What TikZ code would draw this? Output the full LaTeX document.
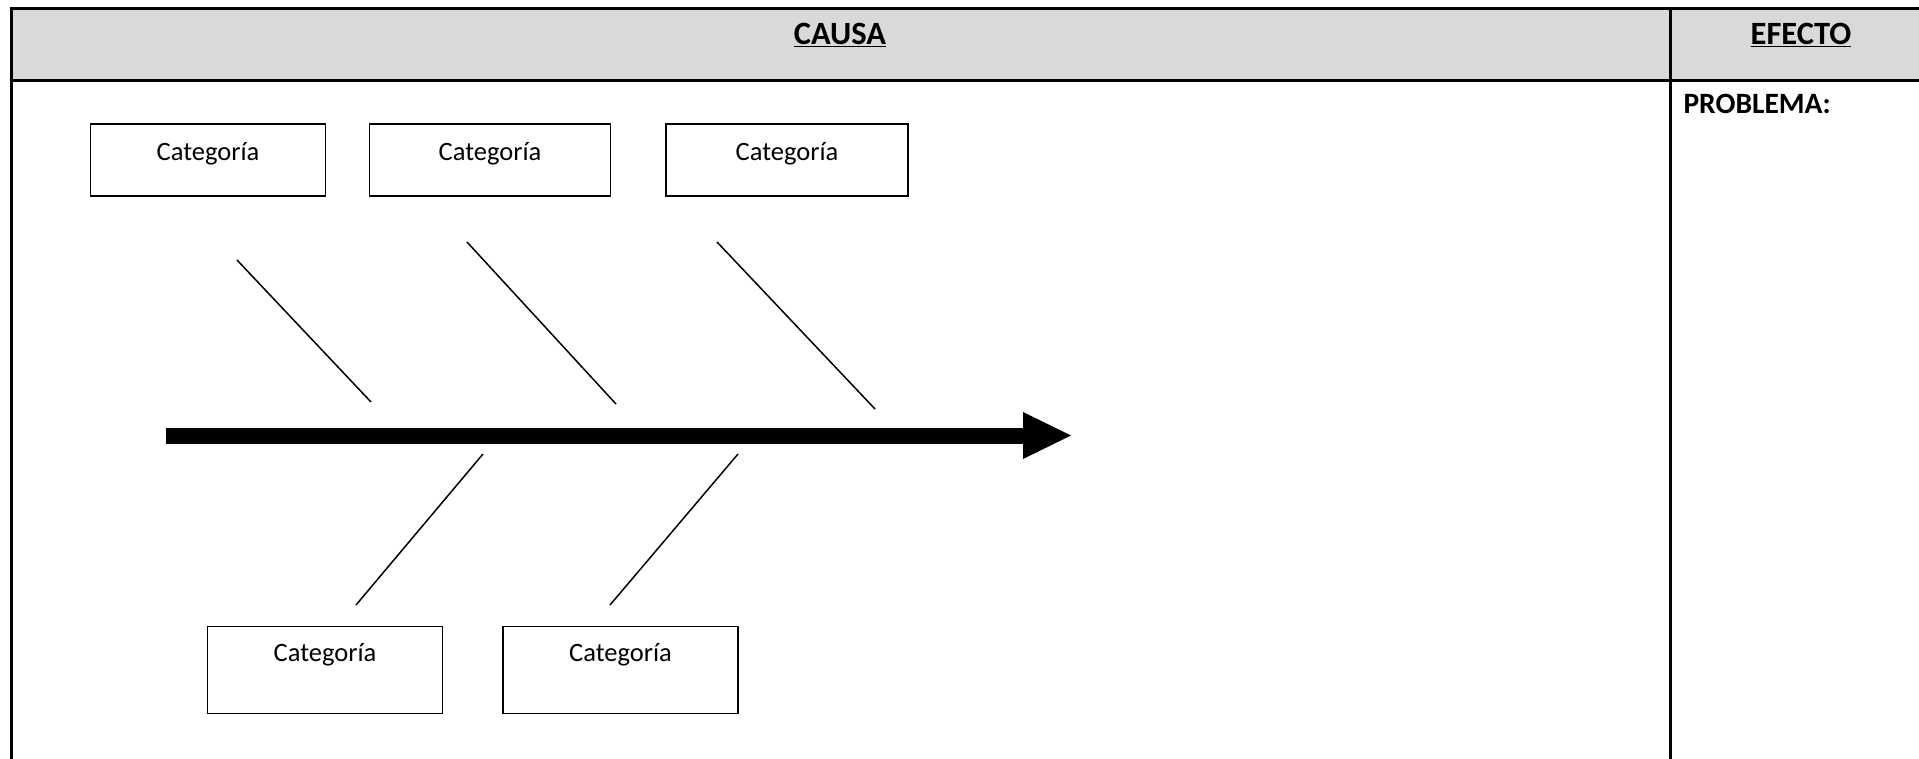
\documentclass[tikz,border=0pt]{standalone}
\usepackage{fontspec}
\setmainfont{Carlito}
\begin{document}
\begin{tikzpicture}[x=1pt,y=-1pt,
  cat/.style={draw=black,line width=1.6pt,minimum width=235pt,minimum height=72pt,inner sep=0pt},
  cattext/.style={font=\fontsize{26.5}{30}\selectfont},
  bone/.style={line width=1.5pt},
  frame/.style={line width=3pt},
  head/.style={font=\bfseries\fontsize{32.5}{36}\selectfont}]
\useasboundingbox (0,0) rectangle (1919,759);
% table
\fill[fill={rgb,255:red,217;green,217;blue,217}] (11,9) rectangle (1925,81);
\draw[frame] (1925,9) -- (11,9) -- (11,762);
\draw[frame] (11,81) -- (1925,81);
\draw[frame] (1670,9) -- (1670,762);
\node[head] (causa) at (840,35) {\underline{CAUSA}};
\node[head] (efecto) at (1801,35) {\underline{EFECTO}};
\node[head,anchor=west,font=\bfseries\fontsize{29.5}{32}\selectfont] (prob) at (1680,104) {PROBLEMA:};
% category boxes
\node[cat] (c1) at (208,160) {};
\node[cat,minimum width=241pt] (c2) at (490,160) {};
\node[cat,minimum width=242pt] (c3) at (787,160) {};
\node[cat,minimum height=87pt] (c4) at (325,670) {};
\node[cat,minimum height=87pt] (c5) at (620.5,670) {};
\node[cattext] (t1) at (208,154) {Categoría};
\node[cattext] (t2) at (490,154) {Categoría};
\node[cattext] (t3) at (787,154) {Categoría};
\node[cattext] (t4) at (325,655) {Categoría};
\node[cattext] (t5) at (620.5,655) {Categoría};
% spine
\coordinate (sp0) at (166,435.5);
\coordinate (sp1) at (1024,435.5);
\coordinate (tip) at (1071,435.5);
\draw[line width=16pt] (sp0) -- (sp1);
\fill (1023,412) -- (tip) -- (1023,459) -- cycle;
% bones
\coordinate (a1) at (237,260); \coordinate (b1) at (371,402);
\coordinate (a2) at (467,242); \coordinate (b2) at (616,404);
\coordinate (a3) at (717,242); \coordinate (b3) at (875,409);
\coordinate (a4) at (483,454); \coordinate (b4) at (356,605);
\coordinate (a5) at (738,454); \coordinate (b5) at (610,605);
\draw[bone] (a1) -- (b1);
\draw[bone] (a2) -- (b2);
\draw[bone] (a3) -- (b3);
\draw[bone] (a4) -- (b4);
\draw[bone] (a5) -- (b5);
\end{tikzpicture}
\end{document}
